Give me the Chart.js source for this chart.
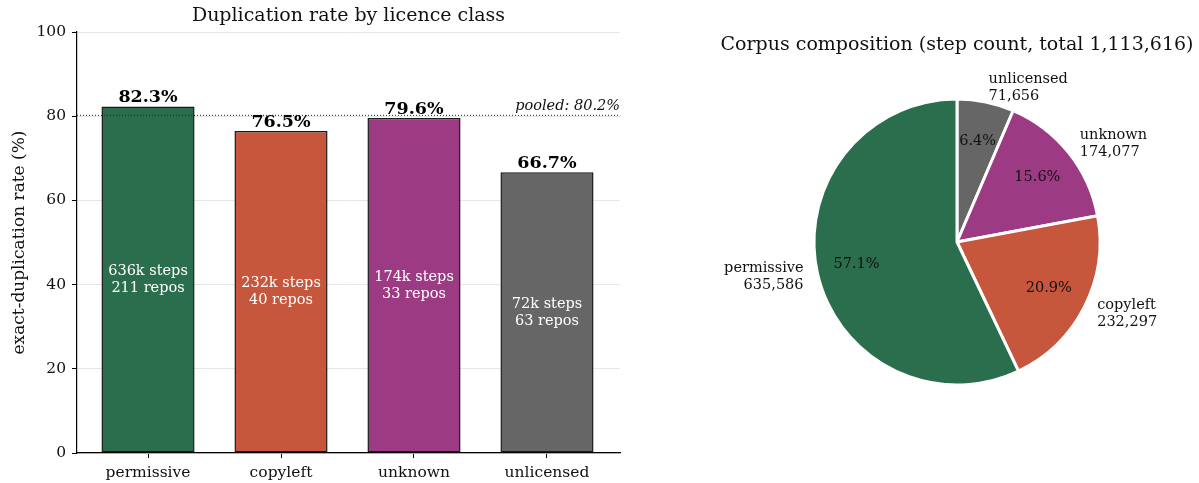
<!DOCTYPE html>
<html>
<head>
<meta charset="utf-8">
<script src="https://cdn.jsdelivr.net/npm/chart.js@4.4.1/dist/chart.umd.min.js"></script>
<style>
    html, body { margin: 0; padding: 0; background: #fff; }
    #wrap { position: relative; width: 1199px; height: 483px; }
    #barBox { position: absolute; left: 0; top: 0; width: 640px; height: 483px; }
    #pieBox { position: absolute; left: 640px; top: 0; width: 559px; height: 483px; }
</style>
</head>
<body>
<div id="wrap">
    <div id="barBox"><canvas id="barChart"></canvas></div>
    <div id="pieBox"><canvas id="pieChart"></canvas></div>
</div>
<script>
// --- data ---
const categories = ['permissive', 'copyleft', 'unknown', 'unlicensed'];
const dupRates = [82.3, 76.5, 79.6, 66.7];
const stepLabels = ['636k steps', '232k steps', '174k steps', '72k steps'];
const repoLabels = ['211 repos', '40 repos', '33 repos', '63 repos'];
const stepCounts = [635586, 232297, 174077, 71656];
const pooledRate = 80.2;
const yTicks = [0, 20, 40, 60, 80, 100];

const colors = ['#2b6e4e', '#c6563c', '#9c3b84', '#666666'];
const FONT = "'DejaVu Serif', serif";

Chart.defaults.font.family = FONT;
Chart.defaults.color = '#111';

const fmt = n => n.toLocaleString('en-US');
const totalSteps = stepCounts.reduce((a, b) => a + b, 0);

// --- bar chart annotations (title, value labels, pooled line) ---
const barDecor = {
    id: 'barDecor',
    afterDatasetsDraw(chart) {
        const { ctx, chartArea: a, scales: { y } } = chart;
        const meta = chart.getDatasetMeta(0);
        ctx.save();

        // title
        ctx.fillStyle = '#111';
        ctx.font = `19px ${FONT}`;
        ctx.textAlign = 'center';
        ctx.textBaseline = 'middle';
        ctx.fillText('Duplication rate by licence class', (a.left + a.right) / 2, 16);

        // pooled line
        const py = y.getPixelForValue(pooledRate);
        ctx.strokeStyle = '#222';
        ctx.lineWidth = 1;
        ctx.setLineDash([1, 2]);
        ctx.beginPath();
        ctx.moveTo(a.left, py);
        ctx.lineTo(a.right, py);
        ctx.stroke();
        ctx.setLineDash([]);
        ctx.font = `italic 14.5px ${FONT}`;
        ctx.textAlign = 'right';
        ctx.textBaseline = 'bottom';
        ctx.fillText('pooled: ' + pooledRate.toFixed(1) + '%', a.right, py - 2);

        meta.data.forEach((bar, i) => {
            // value above bar
            ctx.fillStyle = '#000';
            ctx.font = `bold 17.5px ${FONT}`;
            ctx.textAlign = 'center';
            ctx.textBaseline = 'bottom';
            ctx.fillText(dupRates[i].toFixed(1) + '%', bar.x, bar.y);
            // inner text
            const midY = y.getPixelForValue(dupRates[i] / 2);
            ctx.fillStyle = '#ffffff';
            ctx.font = `14.5px ${FONT}`;
            ctx.textBaseline = 'middle';
            ctx.fillText(stepLabels[i], bar.x, midY - 8.5);
            ctx.fillText(repoLabels[i], bar.x, midY + 8.5);
        });
        ctx.restore();
    }
};

new Chart(document.getElementById('barChart'), {
    type: 'bar',
    data: {
        datasets: [{
            data: dupRates.map((v, i) => ({ x: i, y: v })),
            backgroundColor: colors,
            borderColor: '#1a1a1a',
            borderWidth: 1.5,
            borderSkipped: false,
            barPercentage: 0.7,
            categoryPercentage: 1
        }]
    },
    options: {
        responsive: true,
        maintainAspectRatio: false,
        animation: false,
        layout: { padding: { top: 32, right: 20, left: 0, bottom: 0 } },
        plugins: { legend: { display: false }, tooltip: { enabled: false } },
        scales: {
            x: {
                type: 'linear',
                min: -0.534,
                max: 3.549,
                offset: false,
                afterBuildTicks: s => { s.ticks = categories.map((c, i) => ({ value: i })); },
                afterFit: s => { s.height = 30; },
                ticks: {
                    callback: v => categories[v],
                    font: { size: 15.5 },
                    color: '#111',
                    padding: 6,
                    maxRotation: 0,
                    autoSkip: false
                },
                grid: { offset: false, drawOnChartArea: false, drawTicks: true, tickLength: 5, color: '#000' },
                border: { color: '#000', width: 1.2 }
            },
            y: {
                min: 0,
                max: 100,
                afterBuildTicks: s => { s.ticks = yTicks.map(v => ({ value: v })); },
                afterFit: s => { s.width = 77; },
                ticks: { font: { size: 15.5 }, color: '#111', padding: 6 },
                grid: { color: '#e6e6e6', tickColor: '#000', tickLength: 5, lineWidth: 1 },
                border: { color: '#000', width: 1.2 },
                title: {
                    display: true,
                    text: 'exact-duplication rate (%)',
                    font: { size: 17 },
                    color: '#111',
                    padding: { top: 9, bottom: 0 }
                }
            }
        }
    },
    plugins: [barDecor]
});

// --- pie chart: matplotlib draws counter-clockwise from 12 o'clock, so reverse for Chart.js ---
const pieOrder = [3, 2, 1, 0];

const pieDecor = {
    id: 'pieDecor',
    afterDatasetsDraw(chart) {
        const { ctx } = chart;
        const meta = chart.getDatasetMeta(0);
        ctx.save();
        ctx.fillStyle = '#111';
        ctx.font = `19px ${FONT}`;
        ctx.textAlign = 'center';
        ctx.textBaseline = 'middle';
        ctx.fillText('Corpus composition (step count, total ' + fmt(totalSteps) + ')', 317, 45);

        meta.data.forEach((arc, k) => {
            const i = pieOrder[k];
            const mid = (arc.startAngle + arc.endAngle) / 2;
            const r = arc.outerRadius;
            const cx = arc.x, cy = arc.y;
            // percent
            ctx.font = `14.5px ${FONT}`;
            ctx.textAlign = 'center';
            ctx.fillStyle = '#111';
            const pct = (stepCounts[i] / totalSteps * 100).toFixed(1) + '%';
            ctx.fillText(pct, cx + 0.72 * r * Math.cos(mid), cy + 0.72 * r * Math.sin(mid));
            // outer label
            const lx = cx + 1.1 * r * Math.cos(mid);
            const ly = cy + 1.1 * r * Math.sin(mid);
            ctx.textAlign = Math.cos(mid) >= 0 ? 'left' : 'right';
            ctx.fillText(categories[i], lx, ly - 8.5);
            ctx.fillText(fmt(stepCounts[i]), lx, ly + 8.5);
        });
        ctx.restore();
    }
};

new Chart(document.getElementById('pieChart'), {
    type: 'pie',
    data: {
        labels: pieOrder.map(i => categories[i]),
        datasets: [{
            data: pieOrder.map(i => stepCounts[i]),
            backgroundColor: pieOrder.map(i => colors[i]),
            borderColor: '#ffffff',
            borderWidth: 3
        }]
    },
    options: {
        responsive: true,
        maintainAspectRatio: false,
        animation: false,
        radius: 143,
        layout: { padding: { left: 174, right: 99, top: 99, bottom: 98 } },
        plugins: { legend: { display: false }, tooltip: { enabled: false } }
    },
    plugins: [pieDecor]
});
</script>
</body>
</html>
